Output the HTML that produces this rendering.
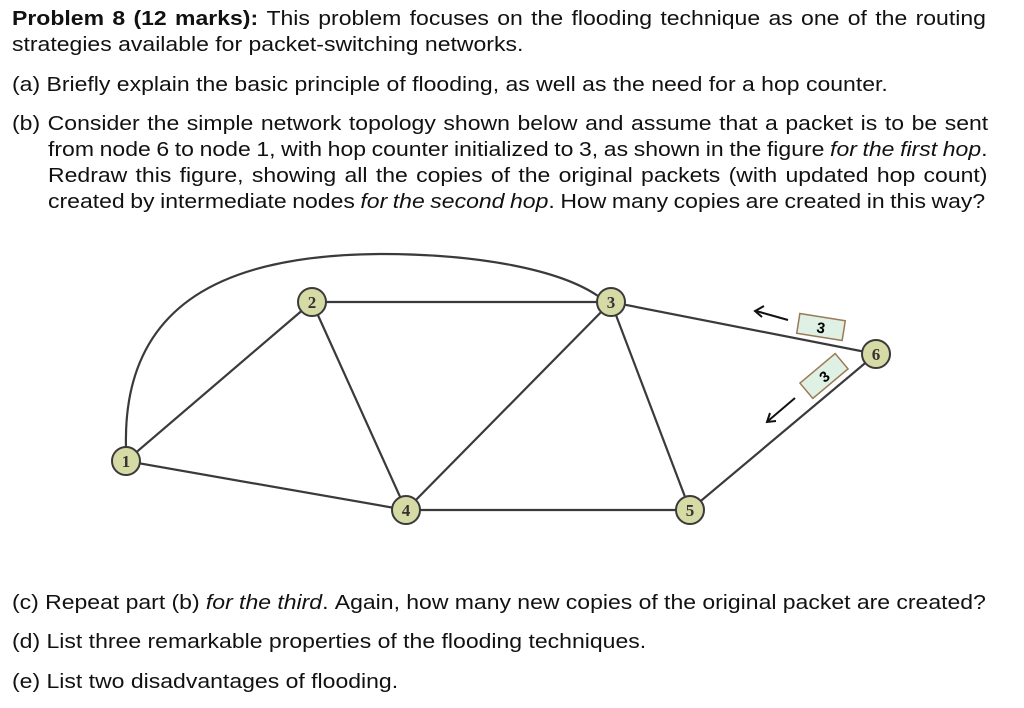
<!DOCTYPE html>
<html><head><meta charset="utf-8"><style>
body{margin:0;width:1024px;height:708px;background:#fff;position:relative;overflow:hidden;font-family:"Liberation Sans",Arial,sans-serif;font-size:20px;color:#111}
.l{position:absolute;white-space:nowrap;line-height:24px;transform:scaleX(1.15);transform-origin:0 0}
.f{display:flex;justify-content:space-between}
</style></head><body>
<div class="l f" style="left:12px;top:7px;width:847px"><b>Problem</b><b>8</b><b>(12</b><b>marks):</b><span>This</span><span>problem</span><span>focuses</span><span>on</span><span>the</span><span>flooding</span><span>technique</span><span>as</span><span>one</span><span>of</span><span>the</span><span>routing</span></div>
<div class="l" style="left:12px;top:33px">strategies available for packet-switching networks.</div>
<div class="l" style="left:12px;top:73px">(a) Briefly explain the basic principle of flooding, as well as the need for a hop counter.</div>
<div class="l f" style="left:12px;top:112px;width:849px"><span>(b)</span><span>Consider</span><span>the</span><span>simple</span><span>network</span><span>topology</span><span>shown</span><span>below</span><span>and</span><span>assume</span><span>that</span><span>a</span><span>packet</span><span>is</span><span>to</span><span>be</span><span>sent</span></div>
<div class="l f" style="left:48px;top:138px;width:817px"><span>from</span><span>node</span><span>6</span><span>to</span><span>node</span><span>1,</span><span>with</span><span>hop</span><span>counter</span><span>initialized</span><span>to</span><span>3,</span><span>as</span><span>shown</span><span>in</span><span>the</span><span>figure</span><i>for</i><i>the</i><i>first</i><span><i>hop</i>.</span></div>
<div class="l f" style="left:48px;top:164px;width:817px"><span>Redraw</span><span>this</span><span>figure,</span><span>showing</span><span>all</span><span>the</span><span>copies</span><span>of</span><span>the</span><span>original</span><span>packets</span><span>(with</span><span>updated</span><span>hop</span><span>count)</span></div>
<div class="l f" style="left:48px;top:190px;width:815px"><span>created</span><span>by</span><span>intermediate</span><span>nodes</span><i>for</i><i>the</i><i>second</i><span><i>hop</i>.</span><span>How</span><span>many</span><span>copies</span><span>are</span><span>created</span><span>in</span><span>this</span><span>way?</span></div>
<div class="l f" style="left:12px;top:591px;width:847px"><span>(c)</span><span>Repeat</span><span>part</span><span>(b)</span><i>for</i><i>the</i><span><i>third</i>.</span><span>Again,</span><span>how</span><span>many</span><span>new</span><span>copies</span><span>of</span><span>the</span><span>original</span><span>packet</span><span>are</span><span>created?</span></div>
<div class="l" style="left:12px;top:630px">(d) List three remarkable properties of the flooding techniques.</div>
<div class="l" style="left:12px;top:670px">(e) List two disadvantages of flooding.</div>
<svg width="1024" height="708" style="position:absolute;left:0;top:0" font-family="Liberation Serif,serif">
<g stroke="#3a3a3a" stroke-width="2.2" fill="none">
<path d="M126,448 C122,300 230,255 380,254 C480,254 560,270 598,296"/>
<line x1="126" y1="461" x2="312" y2="302"/>
<line x1="126" y1="461" x2="406" y2="510"/>
<line x1="312" y1="302" x2="611" y2="302"/>
<line x1="312" y1="302" x2="406" y2="510"/>
<line x1="611" y1="302" x2="406" y2="510"/>
<line x1="611" y1="302" x2="690" y2="510"/>
<line x1="611" y1="302" x2="876" y2="354"/>
<line x1="406" y1="510" x2="690" y2="510"/>
<line x1="690" y1="510" x2="876" y2="354"/>
</g>
<g fill="#d6dba6" stroke="#3a3a3a" stroke-width="2">
<circle cx="126" cy="461" r="14"/><circle cx="312" cy="302" r="14"/><circle cx="611" cy="302" r="14"/>
<circle cx="406" cy="510" r="14"/><circle cx="690" cy="510" r="14"/><circle cx="876" cy="354" r="14"/>
</g>
<g font-size="17" font-weight="bold" fill="#333" text-anchor="middle">
<text x="126" y="467">1</text><text x="312" y="308">2</text><text x="611" y="308">3</text>
<text x="406" y="516">4</text><text x="690" y="516">5</text><text x="876" y="360">6</text>
</g>
<g transform="translate(821,327) rotate(9)">
<rect x="-23" y="-10" width="46" height="20" fill="#dff0e4" stroke="#9b7a55" stroke-width="1.5"/>
<text x="0" y="6" font-family="Liberation Sans,sans-serif" font-size="15" font-weight="bold" text-anchor="middle">3</text></g>
<g transform="translate(824,376) rotate(-40)">
<rect x="-23" y="-10" width="46" height="20" fill="#dff0e4" stroke="#9b7a55" stroke-width="1.5"/>
<text x="0" y="6" font-family="Liberation Sans,sans-serif" font-size="15" font-weight="bold" text-anchor="middle">3</text></g>
<g stroke="#111" stroke-width="2" fill="none">
<line x1="788" y1="320" x2="756" y2="311"/><polyline points="764,306 755,311 762,317"/>
<line x1="795" y1="398" x2="768" y2="421"/><polyline points="770,413 767,422 776,421"/>
</g>
</svg>
</body></html>
